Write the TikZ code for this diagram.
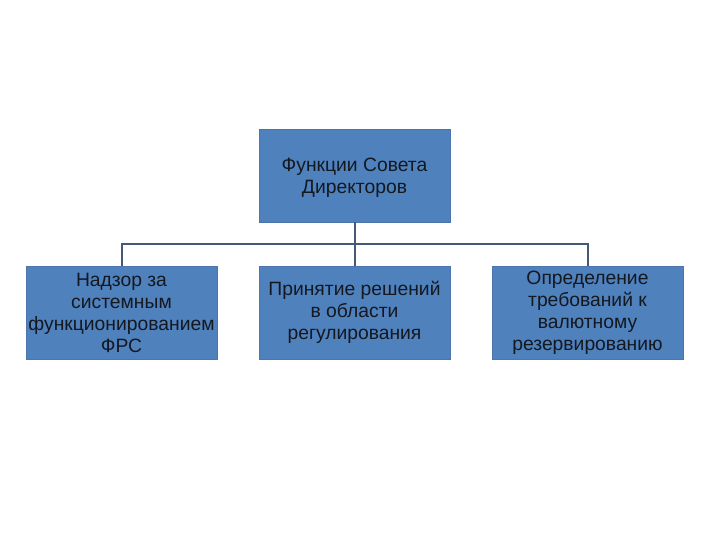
\documentclass[tikz,border=0pt]{standalone}
\usepackage{fontspec}
\setmainfont{Liberation Sans}
\begin{document}
\begin{tikzpicture}[x=1pt,y=-1pt,
  box/.style={draw=boxline,fill=boxfill,line width=0.8pt,minimum width=191pt,minimum height=93pt,inner sep=0pt,
    align=center,text=textcol,font=\fontsize{19.3}{22}\selectfont},
  conn/.style={draw=linecol,line width=2pt}]
\definecolor{boxfill}{HTML}{4F81BD}
\definecolor{boxline}{HTML}{4A76AC}
\definecolor{textcol}{HTML}{141820}
\definecolor{linecol}{HTML}{46587A}
\useasboundingbox (0,0) rectangle (720,540);
\node[box] (top) at (354.5,175.5) {};
\node[align=center,text=textcol,font=\fontsize{19.3}{22}\selectfont,inner sep=0pt] (toptext) at (354.5,178) {Функции Совета\\Директоров};
\node[box] (b1) at (121.5,312.5) {Надзор за\\системным\\функционированием\\ФРС};
\node[box] (b2) at (354.5,312.5) {Принятие решений\\в области\\регулирования};
\node[box] (b3) at (587.5,312.5) {Определение\\требований к\\валютному\\резервированию};
\coordinate (j) at ([yshift=-22pt]top.south);
\draw[conn] (top.south) -- (j);
\draw[conn] (b1.north) |- (j) -| (b3.north);
\draw[conn] (j) -- (b2.north);
\end{tikzpicture}
\end{document}
